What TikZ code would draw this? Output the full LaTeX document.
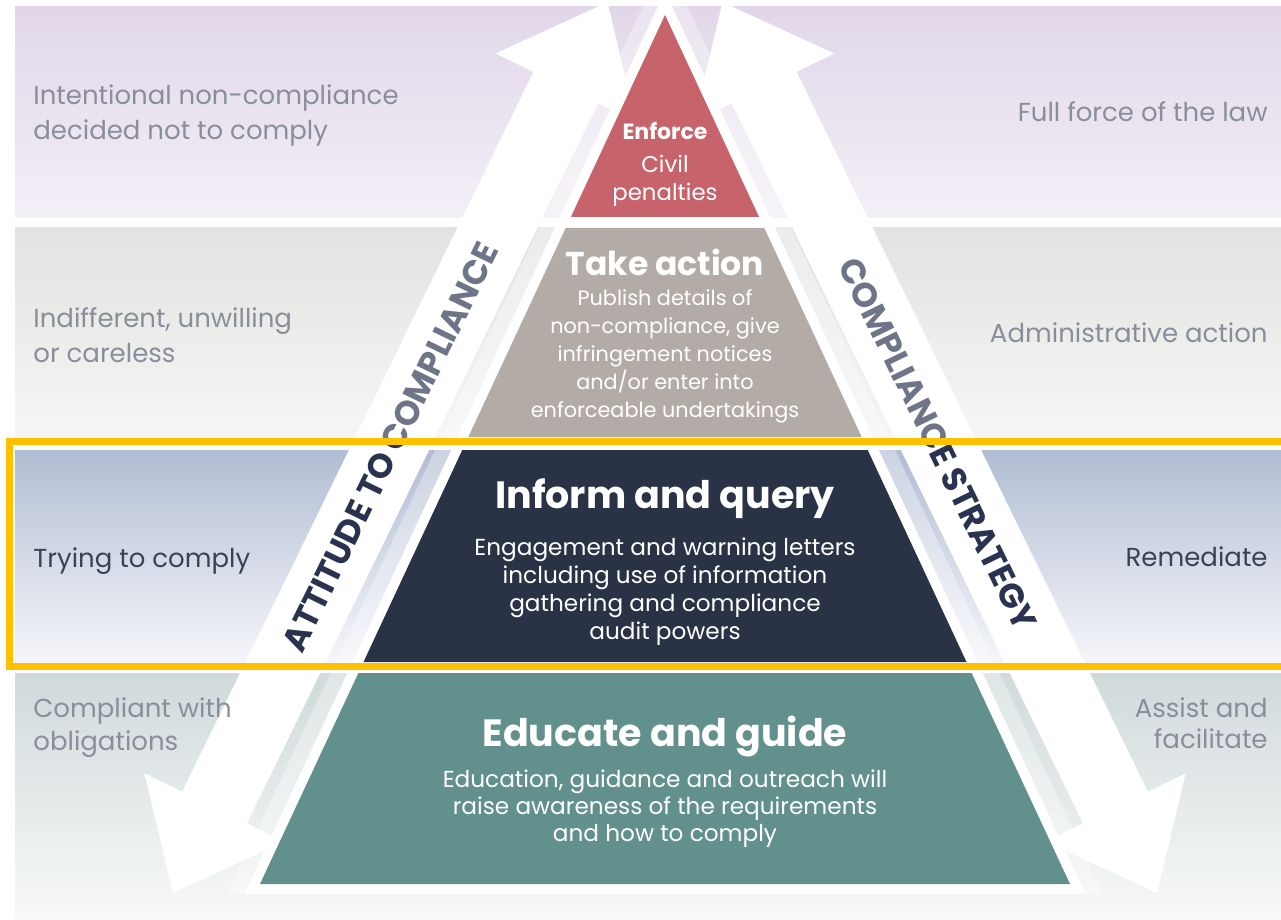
\documentclass[tikz,border=0pt]{standalone}
\usepackage{fontspec}
\setmainfont{Poppins}
\definecolor{bandAtop}{HTML}{E1D7E9}
\definecolor{bandAbot}{HTML}{F3EFF6}
\definecolor{bandBtop}{HTML}{E2E2E0}
\definecolor{bandBbot}{HTML}{F6F6F6}
\definecolor{bandCtop}{HTML}{B1BDD3}
\definecolor{bandCbot}{HTML}{F5F6FA}
\definecolor{bandDtop}{HTML}{D0DADB}
\definecolor{bandDbot}{HTML}{F8F9F9}
\definecolor{enforcered}{HTML}{C7636A}
\definecolor{actiongrey}{HTML}{B3ACA6}
\definecolor{informnavy}{HTML}{2A3346}
\definecolor{educateteal}{HTML}{62908D}
\definecolor{fadetext}{HTML}{8A8E9B}
\definecolor{darktext}{HTML}{3A4256}
\definecolor{arrowdark}{HTML}{29324E}
\definecolor{hilite}{HTML}{FFC000}
\begin{document}
\begin{tikzpicture}[x=0.5pt,y=-0.5pt,
  lbl/.style={inner sep=0pt, font=\fontsize{13}{17.5}\selectfont},
  leftlbl/.style={lbl, anchor=base west, align=left},
  rightlbl/.style={lbl, anchor=base east, align=right},
  tiertitle/.style={inner sep=0pt, anchor=base, text=white, font=\bfseries\fontsize{19}{22}\selectfont},
  tierbody/.style={inner sep=0pt, anchor=base, align=center, text=white, font=\fontsize{11.6}{14}\selectfont},
  arrowtxt/.style={inner sep=0pt, text=arrowdark, font=\bfseries\fontsize{17}{17}\selectfont},
  bigarrow/.style={fill=white},
  fadeveil/.style={fill=white, opacity=0.33}]
\useasboundingbox (0,0) rectangle (1281,920);
\fill[white] (0,0) rectangle (1281,920);
% bands
\shade[top color=bandAtop, bottom color=bandAbot] (15,7) rectangle (1281,218);
\shade[top color=bandBtop, bottom color=bandBbot] (15,228) rectangle (1281,438);
\shade[top color=bandCtop, bottom color=bandCbot] (15,450) rectangle (1281,662);
\shade[top color=bandDtop, bottom color=bandDbot] (15,673) rectangle (1281,920);
% translucent halo round the pyramid
\fill[white, opacity=0.35] (665,-41) -- (227,894) -- (1103,894) -- cycle;
% arrows
\fill[bigarrow] (607.5,2.3) -- (635.9,121.9) -- (598.2,103.5) -- (246.9,823.3) -- (284.6,841.7)
  -- (172.8,892.9) -- (144.4,773.3) -- (182.2,791.7) -- (533.5,71.9) -- (495.7,53.5) -- cycle;
\fill[bigarrow] (722.5,2.3) -- (694.1,121.9) -- (731.8,103.5) -- (1083.1,823.3) -- (1045.4,841.7)
  -- (1157.2,892.9) -- (1185.6,773.3) -- (1147.8,791.7) -- (796.5,71.9) -- (834.3,53.5) -- cycle;
% pyramid white border
\fill[white] (665,-8.6) -- (244.4,894) -- (1085.6,894) -- cycle;
% tiers
\fill[enforcered] (665,15) -- (570.9,217) -- (759.1,217) -- cycle;
\fill[actiongrey] (565.7,228) -- (764.3,228) -- (861.7,437) -- (468.3,437) -- cycle;
\fill[informnavy] (462.3,450) -- (867.7,450) -- (966.5,662) -- (363.5,662) -- cycle;
\fill[educateteal] (358.4,673) -- (971.6,673) -- (1070,884) -- (260,884) -- cycle;
% arrow texts
\node[arrowtxt, rotate=64] (atc) at (390.5,447) {ATTITUDE TO COMPLIANCE};
\node[arrowtxt, rotate=-64] (cs) at (938,444) {COMPLIANCE STRATEGY};
% faded look outside the highlighted band (arrow shafts only)
\begin{scope}
  \clip (0,0) rectangle (1281,441) (0,667) rectangle (1281,920);
  \fill[fadeveil] (533.5,71.9) -- (598.2,103.5) -- (246.9,823.3) -- (182.2,791.7) -- cycle;
  \fill[fadeveil] (796.5,71.9) -- (731.8,103.5) -- (1083.1,823.3) -- (1147.8,791.7) -- cycle;
\end{scope}
% tier texts (multi-line nodes: base = last line)
\node[tiertitle, font=\bfseries\fontsize{11}{13}\selectfont] (enfT) at (665,140) {Enforce};
\node[tierbody, font=\fontsize{11.4}{13.5}\selectfont] (enfB) at (665,200) {Civil\\penalties};
\node[tiertitle, font=\bfseries\fontsize{16.5}{20}\selectfont] (actT) at (665,275) {Take action};
\node[tierbody, font=\fontsize{10.4}{14}\selectfont] (actB) at (665,417) {Publish details of\\non-compliance, give\\infringement notices\\and/or enter into\\enforceable undertakings};
\node[tiertitle] (infT) at (665,508) {Inform and query};
\node[tierbody] (infB) at (665,639) {Engagement and warning letters\\including use of information\\gathering and compliance\\audit powers};
\node[tiertitle] (eduT) at (665,746) {Educate and guide};
\node[tierbody, font=\fontsize{11.6}{13.5}\selectfont] (eduB) at (665,841) {Education, guidance and outreach will\\raise awareness of the requirements\\and how to comply};
% side labels
\node[leftlbl, text=fadetext] (l1) at (33,140) {Intentional non-compliance\\decided not to comply};
\node[leftlbl, text=fadetext] (l2) at (33,362) {Indifferent, unwilling\\or careless};
\node[leftlbl, text=darktext] (l3) at (33,567) {Trying to comply};
\node[leftlbl, text=fadetext, font=\fontsize{13}{16.5}\selectfont] (l4) at (33,750) {Compliant with\\obligations};
\node[rightlbl, text=fadetext] (r1) at (1268,122) {Full force of the law};
\node[rightlbl, text=fadetext] (r2) at (1268,343) {Administrative action};
\node[rightlbl, text=darktext] (r3) at (1268,566) {Remediate};
\node[rightlbl, text=fadetext, font=\fontsize{13}{15.5}\selectfont] (r4) at (1268,748) {Assist and\\facilitate};
% highlight
\draw[hilite, line width=3.5pt] (9,441.5) rectangle (1290,666.5);
\end{tikzpicture}
\end{document}
